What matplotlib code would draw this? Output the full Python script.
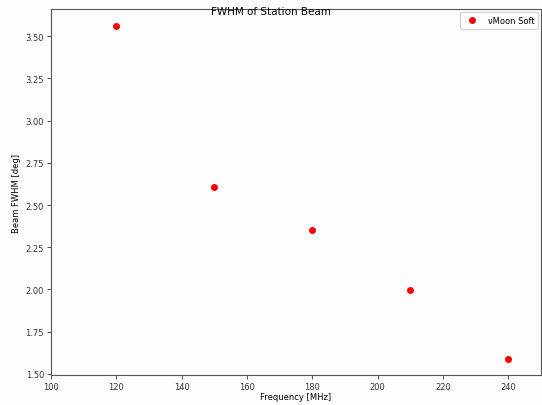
import matplotlib
matplotlib.use("Agg")
import matplotlib.pyplot as plt

freq = [120, 150, 180, 210, 240]
fwhm = [3.56, 2.605, 2.352, 1.997, 1.589]
series_label = "\u03bdMoon Soft"

fig = plt.figure(figsize=(5.42, 4.06), dpi=100)
fig.patch.set_facecolor("#fdfdfd")
ax = fig.add_axes([0.094, 0.074, 0.904, 0.901])
ax.set_facecolor("#fdfdfd")

ax.plot(freq, fwhm, "o", color="red", markersize=4, label=series_label)

ax.set_xlim(100, 250)
ax.set_ylim(1.494, 3.66)
ax.set_yticks([1.50, 1.75, 2.00, 2.25, 2.50, 2.75, 3.00, 3.25, 3.50])
ax.set_xticks([100, 120, 140, 160, 180, 200, 220, 240])
ax.tick_params(labelsize=6, length=3, width=0.6, colors="#333333", pad=2)
for s in ax.spines.values():
    s.set_linewidth(0.8)
    s.set_color("#555555")

ax.set_xlabel("Frequency [MHz]", fontsize=6, labelpad=1)
ax.set_ylabel("Beam FWHM [deg]", fontsize=6, labelpad=3)
fig.text(0.5, 0.962, "FWHM of Station Beam", ha="center", fontsize=7.5)
ax.legend(loc="upper right", fontsize=6, handletextpad=1.0, borderpad=0.5,
          borderaxespad=0.3, handlelength=1.8)

fig.savefig("out.png", dpi=100, facecolor=fig.get_facecolor())
